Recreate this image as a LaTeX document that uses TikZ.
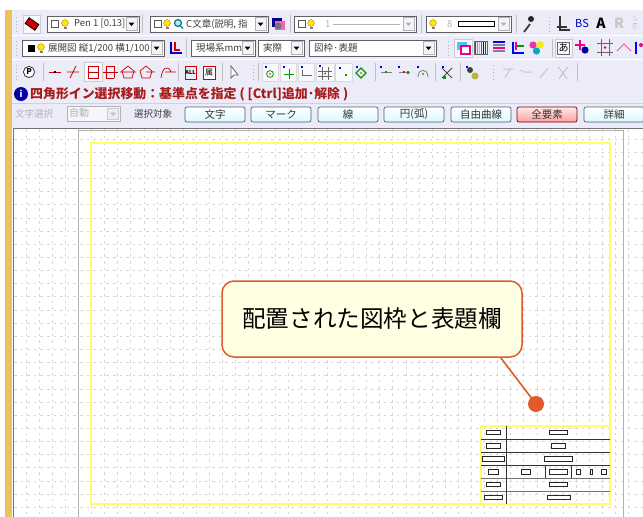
\documentclass[tikz,border=0pt]{standalone}
\usepackage{fontspec}
\setmainfont{Noto Sans CJK JP}
\usetikzlibrary{shadings}
\definecolor{bar}{HTML}{ECEBF8}
\definecolor{edge}{HTML}{E05A2B}
\definecolor{paper}{HTML}{FFFFE4}
\definecolor{strip}{HTML}{EDC060}
\definecolor{msg}{HTML}{A81C1C}
\definecolor{yel}{HTML}{FFFF66}
\definecolor{gridc}{HTML}{D6D6D6}
\definecolor{btn}{HTML}{4A5E78}
\tikzset{
  gridline/.style={gridc,line width=0.7pt,dash pattern=on 2.6pt off 4pt},
  sepline/.style={draw=gray!50,line width=0.7pt},
  combo/.style={draw=gray!75!black,fill=white,line width=.9pt},
  dropb/.style={draw=gray!60,fill=bar!60!white,line width=0.6pt},
  ctext/.style={inner sep=0pt,anchor=west,font=\fontsize{9.5}{10}\selectfont,text=black!75},
  stamp/.style={draw=black!85,line width=0.7pt,fill=white},
  tline/.style={draw=black!80,line width=0.7pt},
  tbtn/.style={draw=btn,line width=0.7pt,rounded corners=2pt,top color=white,bottom color=blue!18!cyan!14!white,minimum width=60pt,minimum height=15pt,inner sep=0pt,font=\fontsize{10.5}{11}\selectfont,text=black!80},
  hot/.style={draw=red!45!black,top color=red!8,bottom color=red!38},
  ricon/.style={draw=red!80!black,line width=0.7pt},
  gicon/.style={draw=gray!45,line width=1pt},
  callout/.style={draw=edge,line width=1.5pt,fill=paper,rounded corners=12pt,minimum width=300pt,minimum height=76pt,inner sep=0pt,font=\fontsize{23.6}{26}\selectfont,text=black},
  pin/.style={circle,fill=edge,draw=none,minimum size=16pt,inner sep=0pt},
  pinline/.style={draw=edge,line width=1.6pt}
}
\newcommand{\grip}[2]{\foreach \k in {-7,-3.5,0,3.5,7}{\fill[gray!60] (#1,#2+\k) rectangle ++(1,1);}}
\newcommand{\vsep}[2]{\draw[sepline] (#1,#2-9) -- (#1,#2+9);}
\newcommand{\bulb}[2]{\fill[yellow!90!orange] (#1,#2-1) circle (3.4pt);\draw[orange!70!black,line width=.3pt] (#1,#2-1) circle (3.4pt);\fill[gray] (#1-1.5,#2+2.5) rectangle (#1+1.5,#2+4.5);}
\newcommand{\chk}[2]{\draw[gray!70!black,line width=.7pt,fill=white] (#1-3.5,#2-3.5) rectangle (#1+3.5,#2+3.5);}
\newcommand{\combobox}[4]{\draw[combo] (#1,#3-8) rectangle (#2,#3+8);
  \draw[dropb] (#2-13,#3-6.5) rectangle (#2-1.5,#3+6.5);
  \fill[#4] (#2-10.5,#3-1.5) -- (#2-4.5,#3-1.5) -- (#2-7.5,#3+2) -- cycle;}
\newcommand{\rowbox}[4]{\draw[stamp] (#1,#3) rectangle (#2,#4);}
\begin{document}
\begin{tikzpicture}[x=1pt,y=-1pt]
\useasboundingbox (0,0) rectangle (643,517);
\fill[white] (0,0) rectangle (643,517);
% window chrome
\fill[strip] (5,10) rectangle (12,517);
\fill[bar] (12,10) rectangle (643,128);
\draw[white,line width=1pt] (12,35) -- (643,35) (12,59) -- (643,59);
\draw[gray!35,line width=.7pt] (12,103) -- (643,103);
% grid
\foreach \i in {0,...,46}{\draw[gridline] (26+13.1*\i,129) -- (26+13.1*\i,517);}
\foreach \j in {0,...,28}{\draw[gridline] (14,139+13.15*\j) -- (643,139+13.15*\j);}
\draw[black!55,line width=1pt] (13,517) -- (13,128) -- (643,128);
% sheet frames
\draw[gray!60,line width=1pt] (78,517) -- (78,130) -- (623,130) -- (623,517);
\draw[yel,line width=1.3pt] (91,143) rectangle (610,504);
% title block
\draw[yel,line width=1.3pt] (481,426) -- (610,426);
\draw[yel,line width=1.3pt] (481,426) -- (481,504);
\draw[tline] (481,439) -- (610,439) (481,452) -- (610,452) (481,465) -- (610,465);
\draw[tline,draw=black!55] (481,478) -- (610,478) (481,491) -- (610,491);
\draw[tline] (506.5,426) -- (506.5,504) (545,465) -- (545,478) (571,465) -- (571,478);
\rowbox{486.5}{500.5}{430.5}{434.5}
\rowbox{549.5}{567.5}{430.5}{434.5}
\rowbox{486.5}{500.5}{443.5}{448}
\rowbox{551.5}{565.5}{443.5}{448}
\rowbox{482.5}{504.5}{456.5}{461.5}
\rowbox{544.5}{572}{456.5}{461.5}
\rowbox{488.5}{498.5}{469.5}{474}
\rowbox{521.5}{530}{469.5}{474}
\rowbox{549.5}{567.5}{469.5}{474}
\rowbox{576}{580}{469.5}{474}
\rowbox{590.5}{592.5}{469.5}{474}
\rowbox{601.5}{606}{469.5}{474}
\rowbox{486.5}{500.5}{482.5}{486.5}
\rowbox{549.5}{567.5}{482.5}{486.5}
\rowbox{484.5}{502.5}{495.5}{499.5}
\rowbox{547.5}{570}{495.5}{499.5}
% row 1
\grip{16}{24}
\draw[gray!40,fill=white!60!bar] (23,15) rectangle (40,33);
\fill[red!80!black,rotate around={-35:(32,24)}] (26,20.5) rectangle (38,27.5);
\draw[black,line width=.7pt,rotate around={-35:(32,24)}] (26,20.5) rectangle (38,27.5);
\combobox{47}{139}{24}{black}
\chk{55}{24}\bulb{65}{24}
\node[ctext] (pen) at (74,24) {Pen 1 [0.13]};
\vsep{142}{24}
\combobox{150}{268}{24}{black}
\chk{158}{24}\bulb{167}{24}
\draw[teal,line width=1.2pt,fill=cyan!30] (178,23) circle (3.5pt);
\draw[teal,line width=1.2pt] (180.5,26) -- (183,28.5);
\node[ctext] (ctype) at (186,24) {C文章(説明, 指};
\fill[blue!55!black] (272,18) rectangle (282,27);
\fill[magenta!60] (275,21) rectangle (285,30);
\fill[black!55] (278,26) circle (3.5pt);
\vsep{290}{24}
\combobox{294}{416}{24}{gray!60}
\chk{302}{24}\bulb{311}{24}
\node[ctext,text=gray!60] (lnum) at (325,24) {1};
\draw[gray!60,line width=.9pt] (333,24) -- (400,24);
\vsep{421}{24}
\combobox{426}{511}{24}{gray!60}
\bulb{433}{24}
\node[ctext,text=gray!60] (wnum) at (447,24) {8};
\draw[black,line width=.7pt,fill=white] (458,21.5) rectangle (494,26.5);
\vsep{516}{24}
\draw[black!80,line width=1.7pt] (524,32) -- (530,24);
\fill[black!85] (531,19) circle (3pt);
\grip{549}{24}
\draw[black!80,line width=1.2pt] (560,16) -- (560,30) -- (570,30);
\draw[black!80,line width=1.2pt] (557,27) -- (567,27);
\node[inner sep=0pt,font=\fontsize{11}{11}\selectfont,text=blue!70!black] (bs) at (582,23) {BS};
\node[inner sep=0pt,font=\bfseries\fontsize{14}{14}\selectfont,text=black] (aicon) at (601,23) {A};
\node[inner sep=0pt,font=\bfseries\fontsize{14}{14}\selectfont,text=gray!45] (rlabel) at (619,23) {R};
\node[inner sep=0pt,font=\bfseries\fontsize{11}{11}\selectfont,text=gray!45] (fracicon) at (635,23) {$\frac{5}{6}$};
% row 2
\grip{16}{48}
\combobox{22}{164}{48}{black}
\fill[black] (27.5,44.5) rectangle (34.5,51.5);\bulb{41}{48}
\node[ctext] (tenkai) at (48,48) {展開図 縦1/200 横1/100};
\draw[blue!80!black,line width=1.5pt] (171,42) -- (171,53) -- (182,53);
\draw[red!85!black,line width=1.4pt] (175,42) -- (175,50) -- (180,50);
\vsep{186}{48}
\combobox{191}{255}{48}{black}
\node[ctext] (genba) at (196,48) {現場系mm};
\combobox{258}{304}{48}{black}
\node[ctext] (jissai) at (263,48) {実際};
\combobox{309}{436}{48}{black}
\node[ctext] (zuwaku) at (314,48) {図枠·表題};
\grip{448}{48}
\draw[gray!40,fill=white!70!bar] (454,39) rectangle (472,57);
\fill[cyan!70] (457,42) rectangle (467,50);
\draw[magenta,fill=white,line width=1.1pt] (461,46) rectangle (470,54);
\foreach \b/\c in {0/red,2/orange,4/yellow!80!black,6/green!70!black,8/blue,10/purple}{\fill[\c] (475+\b,42) rectangle (476.4+\b,54);}
\draw[black!60,line width=.6pt] (474.5,41.5) rectangle (487.5,54.5);
\foreach \q/\c in {42/blue,45/gray,48/magenta,51/gray}{\draw[\c,line width=1.1pt] (493,\q) -- (505,\q);}
\draw[blue,line width=2pt] (513,42) -- (513,53) -- (524,53);
\draw[green!60!black,line width=1.4pt] (517,46) -- (524,46);
\draw[magenta,line width=1.2pt] (516,42) -- (516,50);
\fill[magenta!80] (533,45) circle (3.6pt);\fill[yellow!90!orange] (540,45) circle (3.6pt);\fill[cyan!70!green] (536.5,51) circle (3.6pt);
\vsep{552}{48}
\draw[gray!40,fill=white!70!bar] (555,39) rectangle (572,57);
\draw[black!60,line width=.7pt] (557.5,42) rectangle (569.5,54);
\node[inner sep=0pt,font=\fontsize{10}{10}\selectfont] (aiu) at (563.5,47.5) {あ};
\draw[magenta,line width=1.2pt] (575,45) -- (585,45) (580,40) -- (580,50);
\fill[blue!60!black] (585,50) circle (3.6pt);
\draw[black!60,line width=.8pt] (597,43) -- (613,43) (597,52) -- (613,52) (601,39) -- (601,56) (609,39) -- (609,56);
\fill[red] (605,47.5) circle (1.4pt);
\draw[magenta!70,line width=1pt] (617,51) -- (624,44) -- (631,51);
\draw[blue,line width=1.5pt] (636,42) -- (636,54);
\fill[magenta] (641,45) circle (2pt);
% row 3
\grip{16}{72}
\draw[black!80,line width=.8pt,fill=white] (29,72) circle (5.6pt);
\node[inner sep=0pt,font=\bfseries\fontsize{8}{8}\selectfont] (picon) at (29,71.5) {P};
\vsep{43}{72}
\draw[ricon] (49,72) -- (61,72);
\fill[black] (54,71) rectangle (56,73);
\draw[ricon] (67,72) -- (79,72) (76,66) -- (70,78);
\draw[gray!40,fill=white!70!bar] (84,62) rectangle (102,81);
\draw[ricon] (88,66) rectangle (98,78) (88,72) -- (98,72);
\draw[ricon] (106,66) -- (106,78) (114,66) -- (114,78) (106,66) -- (114,66) (106,78) -- (114,78) (103,72) -- (118,72);
\draw[ricon] (128,66) -- (134,71) -- (132,78) -- (124,78) -- (122,71) -- cycle (120,72) -- (136,72);
\draw[ricon] (146,66) -- (152,71) -- (150,78) -- (142,78) -- (140,71) -- cycle (146,72) -- (155,72);
\draw[ricon] (161,78) .. controls (162,68) and (168,64) .. (171,72) (165,72) -- (176,72);
\vsep{178}{72}
\draw[ricon] (185,66) rectangle (196,79);
\node[inner sep=0pt,font=\bfseries\fontsize{5.5}{6}\selectfont] (allicon) at (190.5,72) {ALL};
\draw[ricon,fill=white] (203,66) rectangle (215,79);
\node[inner sep=0pt,font=\fontsize{8}{8}\selectfont] (zuicon) at (209,72.5) {属};
\vsep{222}{72}
\draw[black!60,line width=.8pt,fill=white] (231,66) -- (231,78) -- (234,75) -- (238,75) -- cycle;
\grip{253}{72}
\vsep{258}{72}
% snap icons
\draw[gray!30,fill=white!70!bar] (262,63) rectangle (278,81);
\fill[blue] (265,66) rectangle (267,68);
\draw[green!60!black,line width=.8pt] (270,74) circle (3.4pt);\fill[red] (270,74) circle (.8pt);
\draw[gray!30,fill=white!70!bar] (280,63) rectangle (296,81);
\fill[blue] (283,66) rectangle (285,68);
\draw[green!60!black,line width=.9pt] (284,74) -- (294,74) (289,69) -- (289,79);
\draw[gray!30,fill=white!70!bar] (298,63) rectangle (314,81);
\fill[blue] (301,66) rectangle (303,68);
\draw[black!60,line width=.9pt] (302,70) -- (302,75) -- (312,75);
\draw[gray!30,fill=white!70!bar] (316,63) rectangle (334,81);
\fill[blue] (319,65) rectangle (321,67);
\draw[black!60,line width=.8pt] (318,71) -- (332,71) (318,76) -- (332,76) (322,67) -- (322,80) (328,67) -- (328,80);
\fill[red] (325,73.5) circle (1pt);
\draw[gray!30,fill=white!70!bar] (335,63) rectangle (352,81);
\fill[blue] (339,67) rectangle (341,69);\fill[green!60!black] (345,74) rectangle (347,76);
\fill[blue] (356,66) rectangle (358,68);
\draw[green!60!black,line width=1.1pt] (361,68) -- (366,73) -- (361,78) -- (356,73) -- cycle;
\fill[red] (361,73) circle (.8pt);
\vsep{375}{72}
\fill[blue] (380,66) rectangle (382,68);
\draw[black!50,line width=.9pt] (381,72) -- (392,72);\fill[green!60!black] (385,71) rectangle (387,73);
\fill[blue] (398,66) rectangle (400,68);
\draw[black!50,line width=.9pt] (399,72) -- (410,72);\fill[red] (403,71) rectangle (405,73);\fill[green!60!black] (407,71) rectangle (409,74);
\fill[blue] (417,66) rectangle (419,68);
\draw[black!50,line width=.8pt] (418,77) .. controls (418,68) and (428,68) .. (428,77);\fill[green!60!black] (423,74) circle (1pt);
\vsep{435}{72}
\fill[blue] (442,66) rectangle (444,68);
\draw[black!70,line width=1pt] (442,78) -- (452,68) (442,68) -- (452,78);
\fill[green!60!black] (443,76) rectangle (446,79);
\vsep{460}{72}
\fill[blue] (466,66) rectangle (468,68);
\fill[black!75] (470,70) circle (3pt);
\fill[yellow!70!black] (475,76) circle (3.5pt);
\grip{493}{72}
\draw[gicon] (503,69) -- (513,69) (510,69) -- (505,78);
\draw[gicon] (520,70) -- (524,72) -- (532,72);
\draw[gicon] (540,78) -- (548,68);
\draw[gicon] (558,67) -- (563,73) -- (568,67) (563,73) -- (559,79) (563,73) -- (567,79);
\vsep{577}{72}
% message line
\fill[blue!65!black] (21,94) circle (7pt);
\node[inner sep=0pt,font=\bfseries\fontsize{9}{9}\selectfont,text=white] (info) at (21,93.5) {i};
\node[inner sep=0pt,anchor=west,font=\bfseries\fontsize{12.9}{14}\selectfont,text=msg] (message) at (30,94) {四角形イン選択移動：基準点を指定 ( [Ctrl]追加･解除 )};
% row 5
\node[inner sep=0pt,anchor=west,font=\fontsize{9.5}{10}\selectfont,text=gray!60] (mojisel) at (15,113.5) {文字選択};
\draw[gray!60,fill=bar!50!white,line width=.7pt] (67,106) rectangle (120,121);
\draw[gray!40,fill=bar] (107,108) rectangle (118.5,119.5);
\fill[gray!50] (110,112.5) -- (116,112.5) -- (113,116) -- cycle;
\node[inner sep=0pt,anchor=west,font=\fontsize{10}{10}\selectfont,text=gray!60] (jido) at (69,113) {自動};
\node[inner sep=0pt,anchor=west,font=\fontsize{9.5}{10}\selectfont,text=black!75] (target) at (134,113.5) {選択対象};
\node[tbtn] (b1) at (215,114.5) {文字};
\node[tbtn] (b2) at (281,114.5) {マーク};
\node[tbtn] (b3) at (348,114.5) {線};
\node[tbtn] (b4) at (414,114.5) {円(弧)};
\node[tbtn] (b5) at (481,114.5) {自由曲線};
\node[tbtn,hot] (b6) at (547,114.5) {全要素};
\node[tbtn] (b7) at (614,114.5) {詳細};
% callout
\node[pin] (dot) at (536,404) {};
\node[callout] (note) at (372,319) {\raisebox{2pt}{配置された図枠と表題欄}};
\draw[pinline] ([xshift=-22pt]note.south east) -- (dot.center);
\end{tikzpicture}
\end{document}
